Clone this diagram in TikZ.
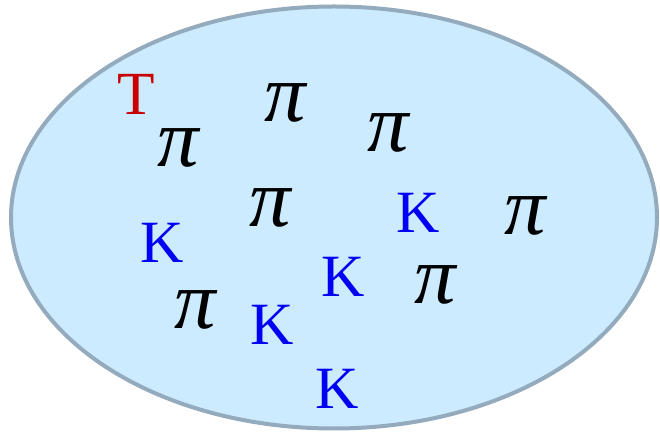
\documentclass[tikz,border=0pt]{standalone}
\usepackage{fontspec}
\setmainfont{Liberation Serif}
\definecolor{gasfill}{RGB}{204,235,255}
\definecolor{gasedge}{RGB}{148,170,189}
\definecolor{kred}{RGB}{200,0,0}
\definecolor{kblue}{RGB}{0,0,245}
\newcommand{\pisym}{{\itshape π}}
\tikzset{
  vessel/.style={draw=gasedge, fill=gasfill, line width=3pt},
  pion/.style={font=\fontsize{62}{62}\selectfont, text=black, inner sep=0pt},
  kaon/.style={font=\fontsize{45}{45}\selectfont, text=kblue, inner sep=0pt},
  tlab/.style={font=\fontsize{46}{46}\selectfont, text=kred, inner sep=0pt},
}
\begin{document}
\begin{tikzpicture}[x=0.75pt,y=-0.75pt]
\useasboundingbox (0,0) rectangle (660,434);
\draw[vessel] (334,217.5) ellipse [x radius=323, y radius=211];
\node[tlab] (t) at (136,94) {T};
% pions
\node[pion] (p1) at (178,148) {\pisym};
\node[pion] (p2) at (285,103) {\pisym};
\node[pion] (p3) at (388,133) {\pisym};
\node[pion] (p4) at (270,208) {\pisym};
\node[pion] (p5) at (525,216) {\pisym};
\node[pion] (p6) at (435,285) {\pisym};
\node[pion] (p7) at (195,310) {\pisym};
% kaons
\node[kaon] (k1) at (162,243) {K};
\node[kaon] (k2) at (418,213) {K};
\node[kaon] (k3) at (343,277) {K};
\node[kaon] (k4) at (272,325) {K};
\node[kaon] (k5) at (337,389) {K};
\end{tikzpicture}
\end{document}
